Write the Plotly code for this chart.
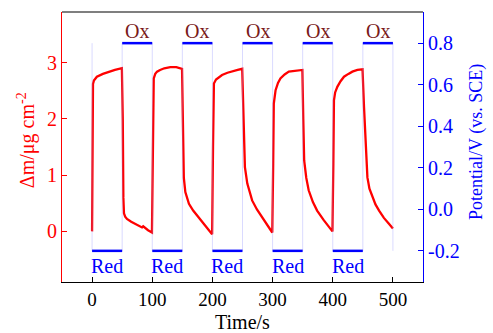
import plotly.graph_objects as go

# mass change (left axis)
time_s = [0, 1.5, 3, 8, 18, 28, 38, 49.5,
          51, 52, 53, 55, 58, 65, 75, 83, 85, 87, 93, 99.5,
          101, 102.5, 105, 108, 113, 120, 130, 140, 149.5,
          151, 152.5, 155, 158, 161, 168, 177, 188, 199.5,
          201, 202.5, 206, 216, 225, 233, 242, 249.5,
          251.5, 254, 258, 262, 266, 274, 283, 292, 299.5,
          301, 302, 305, 309, 313, 320, 327, 338, 349.5,
          351, 352.5, 356, 360, 367, 374, 385, 393, 399.5,
          401, 402, 404, 407.6, 413, 418.7, 426, 432.6, 441, 449.5,
          452, 454.7, 457.6, 461, 466, 471, 477, 485, 493, 500]
mass = [0.0, 2.62, 2.68, 2.75, 2.80, 2.84, 2.87, 2.90,
        2.0, 0.6, 0.32, 0.26, 0.22, 0.17, 0.12, 0.07, 0.09, 0.07, 0.02, -0.02,
        1.5, 2.72, 2.80, 2.84, 2.87, 2.90, 2.92, 2.92, 2.89,
        1.8, 0.95, 0.70, 0.58, 0.49, 0.37, 0.25, 0.11, -0.05,
        1.5, 2.63, 2.70, 2.78, 2.82, 2.85, 2.87, 2.89,
        2.0, 1.14, 0.85, 0.68, 0.55, 0.39, 0.25, 0.11, -0.02,
        1.2, 2.27, 2.51, 2.64, 2.72, 2.79, 2.84, 2.86, 2.87,
        2.0, 1.26, 0.95, 0.73, 0.52, 0.37, 0.20, 0.09, 0.0,
        1.2, 2.33, 2.47, 2.57, 2.67, 2.75, 2.80, 2.84, 2.87, 2.88,
        2.2, 1.44, 0.96, 0.76, 0.61, 0.48, 0.37, 0.24, 0.14, 0.05]

# potential steps (right axis)
step_times = [0, 50, 100, 150, 200, 250, 300, 350, 400, 450, 500]
step_levels = [-0.2, 0.8, -0.2, 0.8, -0.2, 0.8, -0.2, 0.8, -0.2, 0.8]
step_labels = ["Red", "Ox", "Red", "Ox", "Red", "Ox", "Red", "Ox", "Red", "Ox"]

xticks = [0, 100, 200, 300, 400, 500]
yticks_left = [0, 1, 2, 3]
yticks_right = [-0.2, 0.0, 0.2, 0.4, 0.6, 0.8]

FONT = "Liberation Serif"
RED = "#ff0000"
BLUE = "#0000ff"
MAROON = "#7a1a1a"

fig = go.Figure()

# thin vertical transitions
vx, vy = [], []
for t in step_times:
    vx += [t, t, None]
    vy += [min(step_levels), max(step_levels), None]
fig.add_trace(go.Scatter(x=vx, y=vy, yaxis="y2", mode="lines",
                         line=dict(color="rgba(150,150,255,0.45)", width=0.8),
                         hoverinfo="skip", showlegend=False))

# thick horizontal segments
hx, hy = [], []
for i, v in enumerate(step_levels):
    hx += [step_times[i], step_times[i + 1], None]
    hy += [v, v, None]
fig.add_trace(go.Scatter(x=hx, y=hy, yaxis="y2", mode="lines",
                         line=dict(color=BLUE, width=2.5),
                         showlegend=False))

fig.add_trace(go.Scatter(x=time_s, y=mass, mode="lines",
                         line=dict(color=RED, width=2.3),
                         showlegend=False))

for i, lab in enumerate(step_labels):
    xc = (step_times[i] + step_times[i + 1]) / 2
    if lab == "Ox":
        fig.add_annotation(x=xc, y=step_levels[i], yref="y2", text="Ox",
                           showarrow=False, yshift=12,
                           font=dict(family=FONT, size=20, color=MAROON))
    else:
        fig.add_annotation(x=xc, y=step_levels[i], yref="y2", text="Red",
                           showarrow=False, yshift=-15,
                           font=dict(family=FONT, size=20, color=BLUE))

# axis titles
fig.add_annotation(x=0.5, y=-0.148, xref="paper", yref="paper", text="Time/s",
                   showarrow=False, xanchor="center", yanchor="middle",
                   font=dict(family=FONT, size=20, color="black"))
fig.add_annotation(x=-0.10, y=0.525, xref="paper", yref="paper",
                   text="Δm/μg cm<sup>-2</sup>", textangle=-90,
                   showarrow=False, xanchor="center", yanchor="middle",
                   font=dict(family=FONT, size=20, color=RED))
fig.add_annotation(x=1.148, y=0.52, xref="paper", yref="paper",
                   text="Potential/V (vs. SCE)", textangle=-90,
                   showarrow=False, xanchor="center", yanchor="middle",
                   font=dict(family=FONT, size=18, color=BLUE))

fig.add_shape(type="line", xref="paper", yref="paper", x0=0, x1=1, y0=1, y1=1,
              line=dict(color="black", width=1.2))

fig.update_layout(
    width=493, height=333,
    margin=dict(l=62, r=70, t=12, b=51),
    paper_bgcolor="white", plot_bgcolor="white",
    font=dict(family=FONT, size=17),
    xaxis=dict(range=[-50, 550], tickvals=xticks, ticks="inside", ticklen=5,
               tickcolor="black", showline=True, linecolor="black", linewidth=1.2,
               showgrid=False, zeroline=False, automargin=False,
               tickfont=dict(family=FONT, size=19, color="black")),
    yaxis=dict(range=[-0.9, 3.9], tickvals=yticks_left, ticks="inside", ticklen=5,
               tickcolor=RED, showline=True, linecolor=RED, linewidth=1.2,
               showgrid=False, zeroline=False, automargin=False,
               tickfont=dict(family=FONT, size=20, color=RED)),
    yaxis2=dict(range=[-0.35, 0.95], tickvals=yticks_right,
                ticktext=[f"{v:.1f}" for v in yticks_right],
                overlaying="y", side="right", ticks="inside", ticklen=5,
                tickcolor=BLUE, showline=True, linecolor=BLUE, linewidth=1.2,
                showgrid=False, zeroline=False, automargin=False,
                tickfont=dict(family=FONT, size=20, color=BLUE)),
)

fig.write_html("out.html")
